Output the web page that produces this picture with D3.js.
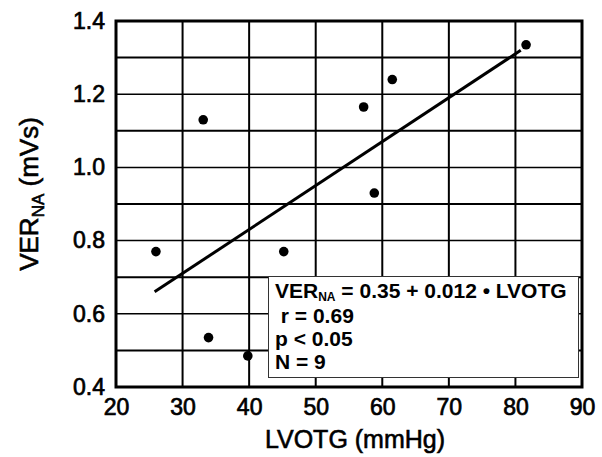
<!DOCTYPE html>
<html>
<head>
<meta charset="utf-8">
<script src="https://cdn.jsdelivr.net/npm/d3@7"></script>
<style>
  body { margin: 0; background: #fff; }
  text { font-family: "Liberation Sans", Arial, sans-serif; fill: #000; }
</style>
</head>
<body>
<div id="chart"></div>
<script>
// data
const lvotg = [26, 33.1, 33.9, 39.8, 45.2, 57.2, 58.8, 61.5, 81.6]
const verNA = [0.77, 1.13, 0.535, 0.485, 0.77, 1.165, 0.93, 1.24, 1.335]
const fitX = [25.8, 80.8]
const fitY = [0.66, 1.32]
const xTicks = [20, 30, 40, 50, 60, 70, 80, 90]
const yTicks = [0.4, 0.6, 0.8, 1.0, 1.2, 1.4]
const yMinor = [0.5, 0.7, 0.9, 1.1, 1.3]
const statLines = [" r = 0.69", "p < 0.05", "N = 9"]

const width = 602
const height = 457
const plot = { left: 116, top: 21, right: 582, bottom: 387 }

const svg = d3.select('#chart')
    .append('svg')
    .attr('width', width)
    .attr('height', height)

const xScale = d3.scaleLinear()
    .domain([20, 90])
    .range([plot.left, plot.right])

const yScale = d3.scaleLinear()
    .domain([0.4, 1.4])
    .range([plot.bottom, plot.top])

// grid lines
const grid = svg.append('g')
grid.selectAll('.vgrid')
    .data(xTicks.slice(1, -1))
    .enter()
    .append('line')
    .attr('x1', d => xScale(d))
    .attr('x2', d => xScale(d))
    .attr('y1', plot.top)
    .attr('y2', plot.bottom)
    .attr('stroke', '#000')
    .attr('stroke-width', 2)

grid.selectAll('.hgrid')
    .data(yTicks.slice(1, -1).concat(yMinor))
    .enter()
    .append('line')
    .attr('x1', plot.left)
    .attr('x2', plot.right)
    .attr('y1', d => yScale(d))
    .attr('y2', d => yScale(d))
    .attr('stroke', '#000')
    .attr('stroke-width', d => yMinor.includes(d) ? 2 : 1.5)

// regression line
svg.append('path')
    .datum(d3.zip(fitX, fitY))
    .attr('d', d3.line().x(d => xScale(d[0])).y(d => yScale(d[1])))
    .attr('stroke', '#000')
    .attr('stroke-width', 3)
    .attr('fill', 'none')

// points
svg.selectAll('circle')
    .data(d3.zip(lvotg, verNA))
    .enter()
    .append('circle')
    .attr('cx', d => xScale(d[0]))
    .attr('cy', d => yScale(d[1]))
    .attr('r', 4.8)
    .attr('fill', '#000')

// legend box
const box = svg.append('g')
box.append('rect')
    .attr('x', 268.5)
    .attr('y', 276.5)
    .attr('width', 310)
    .attr('height', 101)
    .attr('fill', '#fff')
    .attr('stroke', '#333')
    .attr('stroke-width', 1)

const eq = box.append('text')
    .attr('x', 275)
    .attr('y', 298)
    .attr('font-size', 21)
    .attr('font-weight', 'bold')
eq.append('tspan').text('VER')
eq.append('tspan').text('NA').attr('font-size', 12).attr('dy', 3)
eq.append('tspan').text(' = 0.35 + 0.012 \u2022 LVOTG').attr('dy', -3)

box.selectAll('.stat')
    .data(statLines)
    .enter()
    .append('text')
    .attr('x', 275)
    .attr('y', (d, i) => 323 + i * 23)
    .attr('font-size', 21)
    .attr('font-weight', 'bold')
    .attr('xml:space', 'preserve')
    .style('white-space', 'pre')
    .text(d => d)

// frame
svg.append('rect')
    .attr('x', plot.left)
    .attr('y', plot.top)
    .attr('width', plot.right - plot.left)
    .attr('height', plot.bottom - plot.top)
    .attr('fill', 'none')
    .attr('stroke', '#000')
    .attr('stroke-width', 3)

// axes
const xAxis = d3.axisBottom(xScale)
    .tickValues(xTicks)
    .tickSize(0)
    .tickPadding(12)
    .tickFormat(d3.format('d'))
const yAxis = d3.axisLeft(yScale)
    .tickValues(yTicks)
    .tickSize(0)
    .tickPadding(11)
    .tickFormat(d3.format('.1f'))

svg.append('g')
    .attr('transform', 'translate(0,' + plot.bottom + ')')
    .call(xAxis)
    .call(g => g.select('.domain').remove())
    .selectAll('text')
    .attr('font-size', 23)
    .attr('font-family', '"Liberation Sans", Arial, sans-serif')
    .attr('stroke', '#000')
    .attr('stroke-width', 0.7)

svg.append('g')
    .attr('transform', 'translate(' + plot.left + ',0)')
    .call(yAxis)
    .call(g => g.select('.domain').remove())
    .selectAll('text')
    .attr('font-size', 23)
    .attr('font-family', '"Liberation Sans", Arial, sans-serif')
    .attr('stroke', '#000')
    .attr('stroke-width', 0.7)

// axis titles
svg.append('text')
    .attr('x', 355)
    .attr('y', 448)
    .attr('text-anchor', 'middle')
    .attr('font-size', 25)
    .attr('stroke', '#000')
    .attr('stroke-width', 0.6)
    .text('LVOTG (mmHg)')

const yTitle = svg.append('text')
    .attr('transform', 'translate(38,194) rotate(-90)')
    .attr('text-anchor', 'middle')
    .attr('font-size', 26)
    .attr('stroke', '#000')
    .attr('stroke-width', 0.6)
yTitle.append('tspan').text('VER')
yTitle.append('tspan').text('NA').attr('font-size', 17).attr('dy', 6)
yTitle.append('tspan').text(' (mVs)').attr('dy', -6)
</script>
</body>
</html>
